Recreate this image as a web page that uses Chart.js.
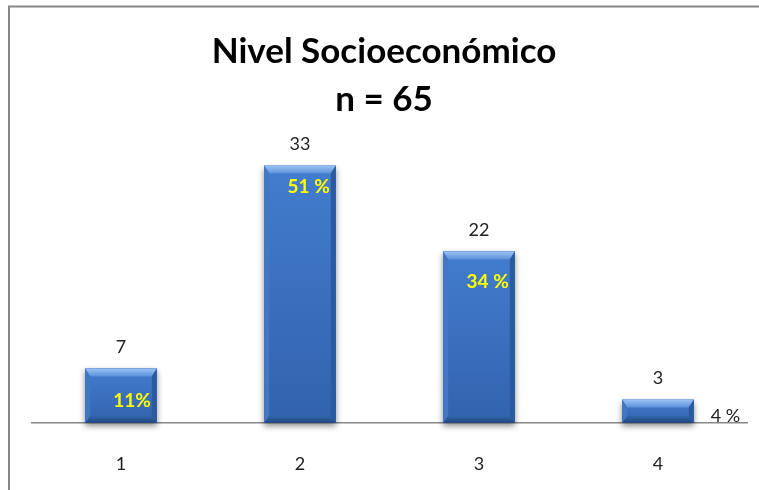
<!DOCTYPE html>
<html>
<head>
<meta charset="utf-8">
<script src="https://cdn.jsdelivr.net/npm/chart.js@4.4.1/dist/chart.umd.min.js"></script>
<style>
  html, body { margin: 0; padding: 0; background: #fff; }
  #wrap { width: 759px; height: 490px; }
</style>
</head>
<body>
<div id="wrap"><canvas id="c" width="759" height="490"></canvas></div>
<script>
// Socioeconomic level distribution, n = 65
const categories = ['1', '2', '3', '4'];
const counts = [7, 33, 22, 3];
const percentLabels = ['11%', '51 %', '34 %', '4 %'];
const titleLines = ['Nivel Socioeconómico', 'n = 65'];

const FONT = 'Lato, "Open Sans", sans-serif';

// Page frame (left and top rules)
const framePlugin = {
  id: 'frame',
  beforeDraw(chart) {
    const ctx = chart.ctx;
    ctx.save();
    ctx.fillStyle = '#ffffff';
    ctx.fillRect(0, 0, chart.width, chart.height);
    ctx.strokeStyle = '#888888';
    ctx.lineWidth = 2;
    ctx.beginPath();
    ctx.moveTo(9, chart.height);
    ctx.lineTo(9, 6.5);
    ctx.lineTo(chart.width, 6.5);
    ctx.stroke();
    ctx.restore();
  }
};

// Two-line heading
const headingPlugin = {
  id: 'heading',
  afterDraw(chart, args, opts) {
    const ctx = chart.ctx;
    ctx.save();
    ctx.fillStyle = '#000';
    ctx.font = 'bold 35px ' + FONT;
    ctx.textAlign = 'center';
    ctx.textBaseline = 'middle';
    opts.lines.forEach((t, i) => ctx.fillText(t, opts.x, opts.y + i * opts.gap));
    ctx.restore();
  }
};

// Bevelled bar faces with a soft drop shadow
const bevelPlugin = {
  id: 'bevel',
  beforeDatasetsDraw(chart) {
    const ctx = chart.ctx;
    const meta = chart.getDatasetMeta(0);
    ctx.save();
    meta.data.forEach(bar => {
      const w = bar.width, x0 = bar.x - w / 2, y0 = bar.y, y1 = bar.base;
      ctx.shadowColor = 'rgba(0,0,0,0.45)';
      ctx.shadowBlur = 6;
      ctx.shadowOffsetY = 3;
      ctx.fillStyle = '#3a6db8';
      ctx.fillRect(x0, y0, w, y1 - y0);
    });
    ctx.restore();
  },
  afterDatasetsDraw(chart) {
    const ctx = chart.ctx;
    const meta = chart.getDatasetMeta(0);
    ctx.save();
    meta.data.forEach(bar => {
      const w = bar.width, x0 = bar.x - w / 2, x1 = bar.x + w / 2, y0 = bar.y, y1 = bar.base;
      const h = y1 - y0;
      const bt = Math.min(8, h / 3), bb = Math.min(7, h / 3), bs = 5;
      // face
      const g = ctx.createLinearGradient(0, y0, 0, y1);
      g.addColorStop(0, '#437dce');
      g.addColorStop(1, '#3262ad');
      ctx.fillStyle = g;
      ctx.fillRect(x0, y0, w, h);
      // top bevel
      const gt = ctx.createLinearGradient(0, y0, 0, y0 + bt);
      gt.addColorStop(0, '#9cc4f4');
      gt.addColorStop(1, '#5b90da');
      ctx.fillStyle = gt;
      ctx.beginPath();
      ctx.moveTo(x0, y0); ctx.lineTo(x1, y0); ctx.lineTo(x1 - bs, y0 + bt); ctx.lineTo(x0 + bs, y0 + bt);
      ctx.closePath(); ctx.fill();
      // left bevel
      ctx.fillStyle = '#4277c4';
      ctx.beginPath();
      ctx.moveTo(x0, y0); ctx.lineTo(x0 + bs, y0 + bt); ctx.lineTo(x0 + bs, y1 - bb); ctx.lineTo(x0, y1);
      ctx.closePath(); ctx.fill();
      // right bevel
      ctx.fillStyle = '#2c5a9e';
      ctx.beginPath();
      ctx.moveTo(x1, y0); ctx.lineTo(x1 - bs, y0 + bt); ctx.lineTo(x1 - bs, y1 - bb); ctx.lineTo(x1, y1);
      ctx.closePath(); ctx.fill();
      // bottom bevel
      const gb = ctx.createLinearGradient(0, y1 - bb, 0, y1);
      gb.addColorStop(0, '#3263ab');
      gb.addColorStop(1, '#23487f');
      ctx.fillStyle = gb;
      ctx.beginPath();
      ctx.moveTo(x0, y1); ctx.lineTo(x1, y1); ctx.lineTo(x1 - bs, y1 - bb); ctx.lineTo(x0 + bs, y1 - bb);
      ctx.closePath(); ctx.fill();
    });
    ctx.restore();
  }
};

// Counts above the bars and percentages beside / inside them
const labelPlugin = {
  id: 'barLabels',
  afterDatasetsDraw(chart, args, opts) {
    const ctx = chart.ctx;
    const meta = chart.getDatasetMeta(0);
    ctx.save();
    ctx.textBaseline = 'middle';
    meta.data.forEach((bar, i) => {
      const w = bar.width, x1 = bar.x + w / 2;
      // count
      ctx.font = '18px ' + FONT;
      ctx.fillStyle = '#222';
      ctx.textAlign = 'center';
      ctx.fillText(String(counts[i]), bar.x, bar.y - 21);
      // percentage
      const s = opts.pct[i];
      if (s.outside) {
        ctx.font = '18px ' + FONT;
        ctx.fillStyle = '#222';
        ctx.textAlign = 'left';
        ctx.fillText(percentLabels[i], x1 + 17, bar.y + s.dy);
      } else {
        ctx.font = 'bold 19px ' + FONT;
        ctx.fillStyle = '#ffff00';
        ctx.textAlign = 'right';
        ctx.fillText(percentLabels[i], x1 - 6, bar.y + s.dy);
      }
    });
    ctx.restore();
  }
};

new Chart(document.getElementById('c'), {
  type: 'bar',
  data: {
    labels: categories,
    datasets: [{
      data: counts,
      backgroundColor: 'rgba(0,0,0,0)',
      borderWidth: 0,
      barPercentage: 0.4,
      categoryPercentage: 1.0
    }]
  },
  options: {
    responsive: false,
    devicePixelRatio: 1,
    animation: false,
    layout: { padding: { left: 31.5, right: 11.5, top: 150, bottom: 0 } },
    plugins: {
      legend: { display: false },
      title: { display: false },
      tooltip: { enabled: false },
      heading: { lines: titleLines, x: 384, y: 52, gap: 48 },
      barLabels: {
        pct: [
          { dy: 32 },
          { dy: 21 },
          { dy: 30 },
          { dy: 17, outside: true }
        ]
      }
    },
    scales: {
      x: {
        grid: { display: true, drawOnChartArea: false, drawTicks: false },
        border: { display: true, color: '#888888', width: 1.5 },
        ticks: { color: '#222', font: { family: FONT, size: 18 }, padding: 30 },
        afterFit(scale) { scale.height = 67; }
      },
      y: { display: false, min: 0, max: 35 }
    }
  },
  plugins: [framePlugin, headingPlugin, bevelPlugin, labelPlugin]
});
</script>
</body>
</html>
